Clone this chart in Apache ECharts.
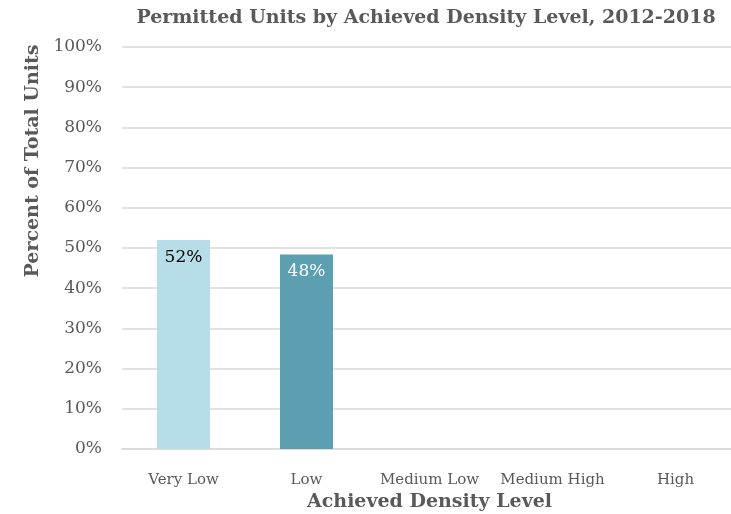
<!DOCTYPE html>
<html>
<head>
    <meta charset="utf-8">
    <title>Permitted Units by Achieved Density Level</title>
    <script src="https://cdn.jsdelivr.net/npm/echarts@6/dist/echarts.min.js"></script>
    <style>
        html, body { margin: 0; padding: 0; background: #fff; }
    </style>
</head>
<body>
    <div id="main" style="width: 731px;height:514px;"></div>
    <script type="text/javascript">
        var categories = ['Very Low', 'Low', 'Medium Low', 'Medium High', 'High'];
        var shares = [52.0, 48.4, null, null, null];
        var barColors = ['#b7dde8', '#5b9fb0', '#b7dde8', '#5b9fb0', '#b7dde8'];
        var labelColors = ['#000000', '#ffffff', '#000000', '#ffffff', '#000000'];

        var fontFamily = '"DejaVu Serif", "Liberation Serif", serif';
        var textGrey = '#595959';

        var dom = document.getElementById('main');
        var myChart = echarts.init(dom);

        var data = shares.map(function (v, i) {
            return {
                value: v,
                itemStyle: { color: barColors[i] },
                label: { color: labelColors[i] }
            };
        });

        var option = {
            animation: false,
            backgroundColor: '#ffffff',
            title: {
                text: 'Permitted Units by Achieved Density Level, 2012-2018',
                left: 421,
                textAlign: 'center',
                top: 4,
                textStyle: {
                    fontFamily: fontFamily,
                    fontSize: 19,
                    fontWeight: 'bold',
                    color: textGrey
                }
            },
            // rotated y axis title sits above the plot centre, as in the original
            graphic: [{
                type: 'text',
                x: 33,
                y: 161,
                rotation: Math.PI / 2,
                style: {
                    text: 'Percent of Total Units',
                    fontFamily: fontFamily,
                    fontSize: 19,
                    fontWeight: 'bold',
                    fill: textGrey,
                    align: 'center',
                    verticalAlign: 'middle'
                }
            }],
            grid: {
                left: 122,
                top: 47,
                width: 615,
                height: 402,
                outerBoundsMode: 'none'
            },
            xAxis: {
                type: 'category',
                data: categories,
                name: 'Achieved Density Level',
                nameLocation: 'middle',
                nameGap: 39,
                nameTextStyle: {
                    fontFamily: fontFamily,
                    fontSize: 19,
                    fontWeight: 'bold',
                    color: textGrey
                },
                axisLine: { lineStyle: { color: '#d9d9d9', width: 1.5 } },
                axisTick: { show: false },
                axisLabel: {
                    interval: 0,
                    margin: 24,
                    fontFamily: fontFamily,
                    fontSize: 15,
                    color: textGrey
                }
            },
            yAxis: {
                type: 'value',
                min: 0,
                max: 100,
                interval: 10,
                axisLine: { show: false },
                axisTick: { show: false },
                splitLine: { lineStyle: { color: '#d9d9d9', width: 1.5 } },
                axisLabel: {
                    margin: 20,
                    fontFamily: fontFamily,
                    fontSize: 17,
                    color: textGrey,
                    formatter: '{value}%'
                }
            },
            series: [{
                type: 'bar',
                data: data,
                barWidth: 53,
                label: {
                    show: true,
                    position: 'insideTop',
                    distance: 9,
                    fontFamily: fontFamily,
                    fontSize: 17,
                    formatter: function (p) {
                        return Math.round(p.value) + '%';
                    }
                }
            }]
        };

        myChart.setOption(option);
    </script>
</body>
</html>
